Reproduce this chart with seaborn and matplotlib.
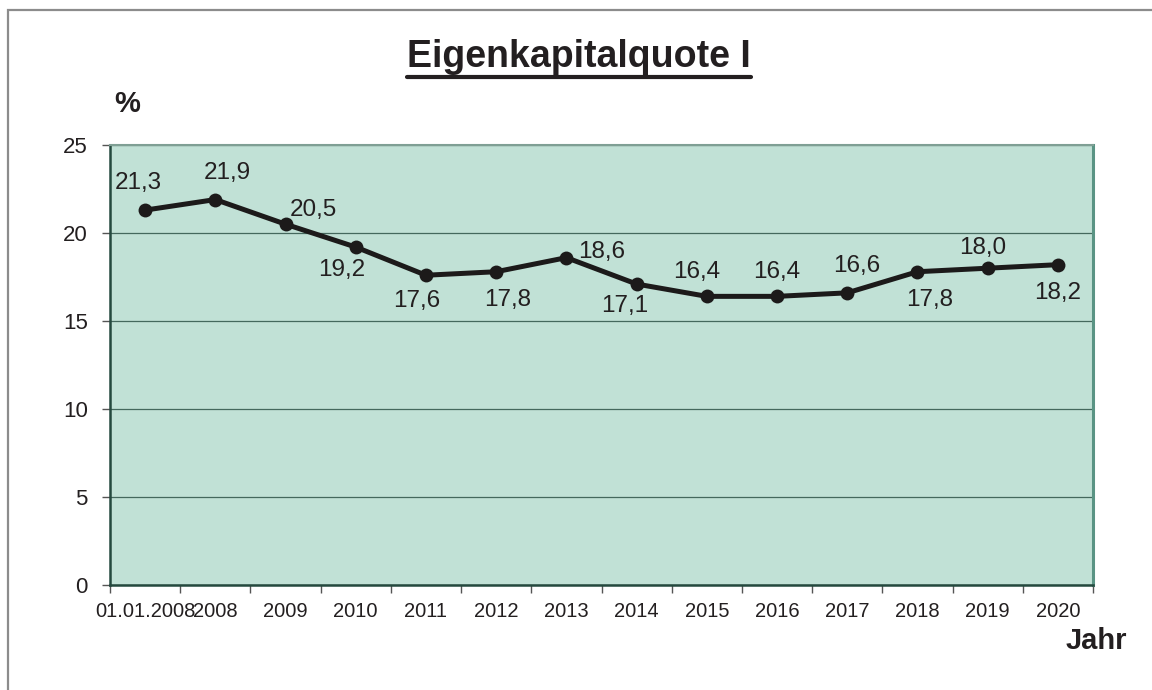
import seaborn as sns
import matplotlib.pyplot as plt
import pandas as pd
from matplotlib.patches import Rectangle
from matplotlib.lines import Line2D

jahre = ["01.01.2008", "2008", "2009", "2010", "2011", "2012", "2013",
         "2014", "2015", "2016", "2017", "2018", "2019", "2020"]
quote = [21.3, 21.9, 20.5, 19.2, 17.6, 17.8, 18.6, 17.1, 16.4, 16.4, 16.6, 17.8, 18.0, 18.2]
beschriftung = ["21,3", "21,9", "20,5", "19,2", "17,6", "17,8", "18,6",
                "17,1", "16,4", "16,4", "16,6", "17,8", "18,0", "18,2"]
y_ticks = [0, 5, 10, 15, 20, 25]

# Versatz der Datenbeschriftung in Pixeln (dx, dy nach oben)
versatz = [(-7, 27), (12, 27), (28, 14), (-14, -23), (-9, -26), (11, -28), (35, 6),
           (-12, -22), (-10, 24), (0, 24), (9, 27), (12, -28), (-5, 20), (0, -28)]

df = pd.DataFrame({"Jahr": jahre, "Quote": quote})

sns.set_style("white")
plt.rcParams["font.family"] = ["Liberation Sans", "DejaVu Sans"]

fig = plt.figure(figsize=(11.52, 6.9), dpi=100)
ax = fig.add_axes([110 / 1152, 1 - 585 / 690, (1093 - 110) / 1152, 440 / 690])
ax.set_facecolor("#c1e1d6")

x = list(range(len(jahre)))
sns.lineplot(x=x, y=df["Quote"], ax=ax, color="#1c1a1a", linewidth=3.6,
             marker="o", markersize=10, markeredgewidth=0, sort=False, zorder=5)

for i, (val, txt) in enumerate(zip(quote, beschriftung)):
    dx, dy = versatz[i]
    ax.annotate(txt, (i, val), xytext=(dx, dy), textcoords="offset pixels",
                ha="center", va="center", fontsize=17.5, color="#231f20", zorder=6)

ax.set_xlim(-0.5, len(jahre) - 0.5)
ax.set_ylim(0, 25)
ax.set_yticks(y_ticks)
ax.set_yticklabels([str(t) for t in y_ticks], fontsize=16, color="#231f20")
ax.set_xticks(x)
ax.set_xticklabels(jahre, fontsize=14.5, color="#231f20")
ax.set_xticks([i - 0.5 for i in range(len(jahre) + 1)], minor=True)
ax.tick_params(axis="x", which="major", bottom=True, length=0, pad=12)
ax.tick_params(axis="x", which="minor", bottom=True, length=6, width=1,
               color="#555555", direction="out")
ax.tick_params(axis="y", which="major", left=True, length=6, width=1,
               color="#555555", direction="out", pad=10)
ax.set_xlabel("")
ax.set_ylabel("")

ax.grid(axis="y", color="#44685d", linewidth=0.9)
ax.set_axisbelow(True)

ax.spines["left"].set_color("#24493e")
ax.spines["left"].set_linewidth(1.8)
ax.spines["bottom"].set_color("#24493e")
ax.spines["bottom"].set_linewidth(1.8)
ax.spines["top"].set_color("#7f9f94")
ax.spines["top"].set_linewidth(1.5)
ax.spines["right"].set_color("#5a9484")
ax.spines["right"].set_linewidth(2.2)

# Rahmen um das Diagramm
fig.patches.append(Rectangle((8 / 1152, -0.1), 1.2, 1.1 - 9.5 / 690, transform=fig.transFigure,
                             fill=False, edgecolor="#8c8c8c", linewidth=1.6))

titel = fig.text(579 / 1152, 1 - 57 / 690, "Eigenkapitalquote I", ha="center", va="center",
                 fontsize=27, fontweight="bold", color="#231f20")
fig.text(127 / 1152, 1 - 104 / 690, "%", ha="center", va="center",
         fontsize=21, fontweight="bold", color="#231f20")
fig.text(1096 / 1152, 1 - 641 / 690, "Jahr", ha="center", va="center",
         fontsize=21, fontweight="bold", color="#231f20")

# Unterstreichung des Titels
fig.canvas.draw()
bb = titel.get_window_extent()
fig.lines.append(Line2D([bb.x0 / 1152, bb.x1 / 1152], [1 - 77 / 690, 1 - 77 / 690],
                        transform=fig.transFigure, color="#231f20", linewidth=3))

plt.savefig("out.png", dpi=100)
